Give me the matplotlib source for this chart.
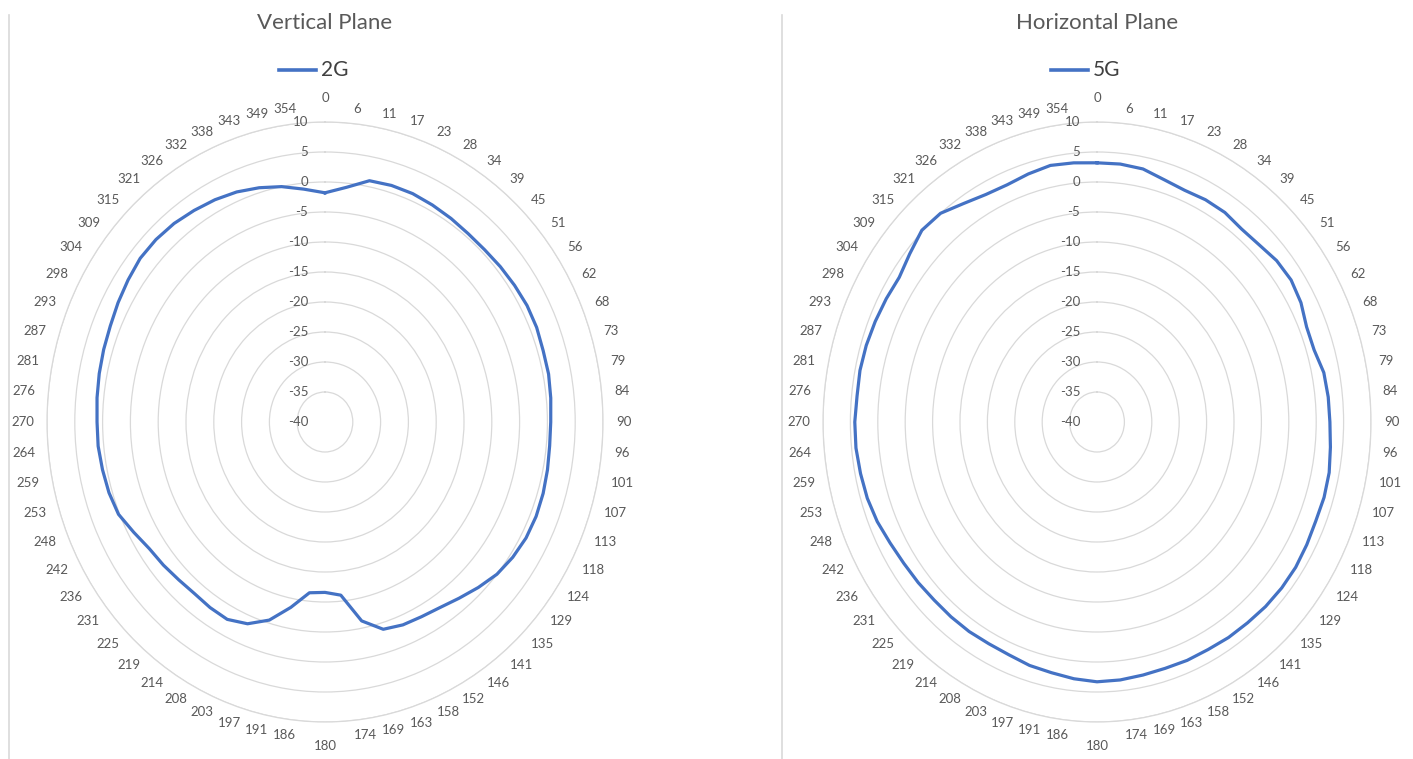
import numpy as np
import matplotlib
matplotlib.use("Agg")
import matplotlib.pyplot as plt
from matplotlib.lines import Line2D

angle_labels = ["0", "6", "11", "17", "23", "28", "34", "39", "45", "51", "56", "62",
                "68", "73", "79", "84", "90", "96", "101", "107", "113", "118", "124",
                "129", "135", "141", "146", "152", "158", "163", "169", "174", "180",
                "186", "191", "197", "203", "208", "214", "219", "225", "231", "236",
                "242", "248", "253", "259", "264", "270", "276", "281", "287", "293",
                "298", "304", "309", "315", "321", "326", "332", "338", "343", "349", "354"]
r_ticks = [-40, -35, -30, -25, -20, -15, -10, -5, 0, 5, 10]

vertical_2g = [-1.8, -0.7, 1.0, 1.2, 1.2, 1.0, 0.8, 0.6, 0.6, 0.8, 1.0, 1.2,
               1.2, 1.0, 1.0, 0.8, 0.6, 0.6, 0.8, 1.0, 1.1, 1.0, 0.6, 0.0,
               -1.0, -2.0, -2.8, -3.2, -3.4, -3.9, -6.2, -11.0, -11.6, -11.4, -8.5, -5.5,
               -3.6, -2.7, -2.8, -3.0, -2.8, -2.4, -2.0, -1.0, 0.2, 0.6, 0.8, 1.0,
               1.0, 1.2, 1.4, 1.6, 1.8, 2.2, 2.6, 3.0, 3.0, 2.8, 2.4, 2.0,
               1.5, 0.8, 0.0, -1.0]
horizontal_5g = [3.2, 3.2, 3.0, 2.2, 1.8, 2.0, 2.0, 1.6, 1.8, 2.4, 2.6, 2.2,
                 1.4, 1.4, 2.2, 2.4, 2.5, 2.8, 3.2, 3.3, 3.2, 3.4, 3.6, 3.6,
                 3.5, 3.3, 3.2, 3.0, 3.0, 2.9, 3.0, 3.2, 3.3, 3.0, 2.6, 2.4,
                 2.0, 1.9, 2.0, 2.0, 2.0, 2.2, 2.4, 2.8, 3.4, 3.8, 4.0, 4.2,
                 4.2, 4.0, 4.1, 4.0, 3.8, 3.6, 3.4, 4.2, 5.2, 5.0, 3.8, 3.0,
                 2.8, 3.2, 3.6, 3.4]

FONT = ["Lato", "DejaVu Sans"]
plt.rcParams["font.family"] = FONT
GREY = "#595959"
GRID = "#d9d9d9"
BLUE = "#4472C4"

W, H = 1413, 759
fig = plt.figure(figsize=(W / 100, H / 100), dpi=100)
fig.patch.set_facecolor("white")

def px_box(cx, cy, rx, ry):
    return [(cx - rx) / W, (H - (cy + ry)) / H, 2 * rx / W, 2 * ry / H]

def radar(box, values, title, name, title_x):
    ax = fig.add_axes(box, projection="polar")
    ax.set_aspect("auto")
    ax.set_theta_zero_location("N")
    ax.set_theta_direction(-1)
    n = len(angle_labels)
    deg = np.arange(n) * 360.0 / n
    theta = np.deg2rad(deg)
    rmin, rmax = r_ticks[0], r_ticks[-1]
    ax.set_ylim(rmin, rmax)
    ax.set_yticks(r_ticks)
    ax.set_yticklabels([])
    ax.set_xticks(theta)
    ax.set_xticklabels([])
    ax.tick_params(axis="x", length=0)
    ax.xaxis.grid(False)
    ax.yaxis.grid(True, color=GRID, lw=0.9)
    ax.spines["polar"].set_color(GRID)
    ax.spines["polar"].set_linewidth(0.9)
    # radial value labels
    for v in r_ticks:
        ax.annotate(str(v), xy=(0, v), xytext=(-12, 0), textcoords="offset points",
                    ha="right", va="center", fontsize=9.5, color=GREY)
    # category labels (Excel-style placement)
    span = rmax - rmin
    for t, d, lbl in zip(theta, deg, angle_labels):
        s = np.sin(t)
        if abs(s) < 1e-6:
            r = rmin + 1.06 * span
            ha = "center"
            va = "bottom" if np.cos(t) > 0 else "top"
        else:
            r = rmin + 1.047 * span
            ha = "left" if s > 0 else "right"
            va = "center"
        ax.text(t, r, lbl, ha=ha, va=va, fontsize=9.5, color=GREY, clip_on=False)
    th = np.append(theta, theta[0])
    vals = np.append(values, values[0])
    ax.plot(th, vals, color=BLUE, lw=2.3, solid_joinstyle="round")
    fig.text(title_x / W, 1 - 23 / H, title, ha="center", va="center",
             fontsize=16, color=GREY)
    # legend
    lx = title_x - 46
    fig.add_artist(Line2D([lx / W, (lx + 37) / W], [1 - 70 / H, 1 - 70 / H],
                          color=BLUE, lw=2.6))
    fig.text((lx + 42) / W, 1 - 70 / H, name, ha="left", va="center",
             fontsize=15, color="#404040")
    return ax

radar(px_box(325, 422, 278, 300), vertical_2g, "Vertical Plane", "2G", 325)
radar(px_box(1097, 422, 274, 300), horizontal_5g, "Horizontal Plane", "5G", 1097)

for x in (9, 782):
    fig.add_artist(Line2D([x / W, x / W], [0, 1 - 15 / H], color=GRID, lw=1.2))

fig.savefig("out.png", dpi=100, facecolor="white")
